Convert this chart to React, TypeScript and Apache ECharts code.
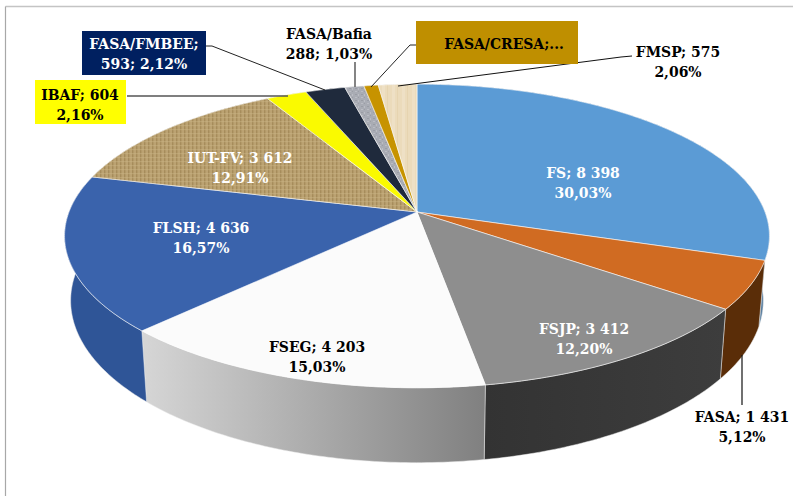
import React, { useEffect, useRef } from "react";
import * as echarts from "echarts";

const names = ["FS", "FASA", "FSJP", "FSEG", "FLSH", "IUT-FV", "IBAF", "FASA/FMBEE", "FASA/Bafia", "FASA/CRESA", "FMSP"];
const values = [8398, 1431, 3412, 4203, 4636, 3612, 604, 593, 288, 213, 575];
const labelTexts = [
  "FS; 8 398\n30,03%",
  "FASA; 1 431\n5,12%",
  "FSJP; 3 412\n12,20%",
  "FSEG; 4 203\n15,03%",
  "FLSH; 4 636\n16,57%",
  "IUT-FV; 3 612\n12,91%",
  "IBAF; 604\n2,16%",
  "FASA/FMBEE;\n593; 2,12%",
  "FASA/Bafia\n288; 1,03%",
  "FASA/CRESA;...",
  "FMSP; 575\n2,06%",
];

const labelCentres = [
  [583, 182.5], [742, 426], [584, 338.5], [317, 356], [201, 237], [240, 167],
  [80, 104], [144, 53.5], [329, 43.5], [504, 43], [678, 61.5],
];
const labelColours = ["#fff", "#000", "#fff", "#000", "#fff", "#fff", "#000", "#fff", "#000", "#000", "#000"];
const labelBoxes: (number[] | null)[] = [
  null, null, null, null, null, null,
  [35, 80, 91, 44], [82, 31, 124, 44], null, [416, 21, 162, 43], null,
];
const boxColours = ["", "", "", "", "", "", "#FFFF00", "#002060", "", "#BF8F00", ""];
const leaderLines = [
  { pts: [[742, 405], [742, 355]], c: "#111", w: 1.2 },
  { pts: [[127, 96], [288, 96]], c: "#555", w: 1.3 },
  { pts: [[206, 46], [212, 46], [325, 90]], c: "#222", w: 1 },
  { pts: [[355, 62], [355, 87]], c: "#666", w: 1.6 },
  { pts: [[416, 45], [410, 45], [371, 87]], c: "#222", w: 1 },
  { pts: [[632, 56], [621, 57], [398, 86]], c: "#111", w: 1 },
];

const PERSPECTIVE = -0.158;
const CX = 417;
const TOP = { cy: 212, a: 348, b: 148 };
const BOTTOM = { cy: 275, a: 342, b: 158 };

function rimPoint(rim: { cy: number; a: number; b: number }, deg: number) {
  const t = (deg * Math.PI) / 180;
  const u = Math.sin(t);
  const v = -Math.cos(t);
  const d = 1 + PERSPECTIVE * v;
  return [CX + (rim.a * u) / d, rim.cy + (rim.b * v) / d];
}

function rimArc(rim: { cy: number; a: number; b: number }, from: number, to: number) {
  const steps = Math.max(2, Math.ceil((to - from) / 0.75));
  const out: number[][] = [];
  for (let i = 0; i <= steps; i++) out.push(rimPoint(rim, from + ((to - from) * i) / steps));
  return out;
}

function makePattern(size: number, paint: (g: CanvasRenderingContext2D) => void) {
  const canvas = document.createElement("canvas");
  canvas.width = size;
  canvas.height = size;
  paint(canvas.getContext("2d") as CanvasRenderingContext2D);
  return { image: canvas, repeat: "repeat", imageWidth: size, imageHeight: size } as any;
}

function buildFills() {
  const hessian = makePattern(8, (g) => {
    g.fillStyle = "#BBA272";
    g.fillRect(0, 0, 8, 8);
    g.fillStyle = "#A68C5B";
    for (let i = 0; i < 8; i += 4) g.fillRect(i, 0, 1.4, 8);
    g.fillStyle = "rgba(205,182,136,0.45)";
    for (let i = 1; i < 8; i += 4) g.fillRect(0, i, 8, 1.2);
  });
  const granite = makePattern(6, (g) => {
    g.fillStyle = "#A9ACB4";
    g.fillRect(0, 0, 6, 6);
    g.fillStyle = "#BBBDC4";
    g.fillRect(1, 1, 2, 1);
    g.fillRect(4, 4, 1, 2);
    g.fillStyle = "#9A9DA5";
    g.fillRect(4, 1, 1, 1);
    g.fillRect(1, 4, 2, 1);
  });
  const wood = makePattern(10, (g) => {
    g.fillStyle = "#EBDBBB";
    g.fillRect(0, 0, 10, 10);
    g.fillStyle = "#EEE0C5";
    g.fillRect(2, 0, 3, 10);
    g.fillStyle = "#E6D4B0";
    g.fillRect(7, 0, 1, 10);
  });
  return ["#5B9BD5", "#D06B22", "#8E8E8E", "#FBFBFB", "#3A63AC", hessian, "#FAFA00", "#1F2A3C", granite, "#C79300", wood];
}

const wallFills: any[] = [
  "#5A7FA0",
  "#5A2D08",
  new echarts.graphic.LinearGradient(0, 0, 1, 0, [
    { offset: 0, color: "#333333" },
    { offset: 1, color: "#3D3D3D" },
  ]),
  new echarts.graphic.LinearGradient(0, 0, 1, 0, [
    { offset: 0, color: "#D6D6D6" },
    { offset: 1, color: "#808080" },
  ]),
  "#2F5597",
  "#8A7344",
  "#B0B000",
  "#141C28",
  "#777",
  "#8C6800",
  "#B5A88A",
];

const total = values.reduce((a, b) => a + b, 0);
const startDeg: number[] = [];
values.reduce((acc, v, i) => {
  startDeg[i] = (acc / total) * 360;
  return acc + v;
}, 0);

export default function App() {
  const ref = useRef<HTMLDivElement>(null);
  useEffect(() => {
    document.body.style.margin = "0";
    const chart = echarts.init(ref.current as HTMLDivElement, undefined, { renderer: "svg" });
    const topFills = buildFills();
    const seriesData = names.map((name, i) => ({ name, value: values[i] }));

    const elements: any[] = [
      { type: "line", shape: { x1: 5.5, y1: 6.5, x2: 793, y2: 6.5 }, style: { stroke: "#C4C4C4", lineWidth: 1.5 }, z: 0 },
      { type: "line", shape: { x1: 5.5, y1: 6.5, x2: 5.5, y2: 496 }, style: { stroke: "#A8A8A8", lineWidth: 1.2 }, z: 0 },
    ];
    leaderLines.forEach((l) => {
      elements.push({
        type: "polyline",
        shape: { points: l.pts },
        style: { stroke: l.c, lineWidth: l.w, fill: "none" },
        z: 20,
      });
    });
    labelTexts.forEach((text, i) => {
      const box = labelBoxes[i];
      if (box) {
        elements.push({
          type: "rect",
          shape: { x: box[0], y: box[1], width: box[2], height: box[3] },
          style: { fill: boxColours[i] },
          z: 30,
        });
      }
      elements.push({
        type: "text",
        x: labelCentres[i][0],
        y: labelCentres[i][1],
        style: {
          text,
          fill: labelColours[i],
          align: "center",
          verticalAlign: "middle",
          fontFamily: "'DejaVu Serif Condensed', 'DejaVu Serif'",
          fontWeight: "bold",
          fontSize: 15.5,
          lineHeight: 20,
        },
        z: 40,
      });
    });

    const slice = (i: number) => {
      const from = startDeg[i];
      return [from, from + (values[i] / total) * 360];
    };

    chart.setOption({
      animation: false,
      backgroundColor: "#fff",
      graphic: { elements },
      series: [
        {
          type: "custom",
          coordinateSystem: "none",
          silent: true,
          z: 2,
          data: seriesData,
          renderItem: (params: any) => {
            const i = params.dataIndex;
            const [a, b] = slice(i);
            const pts = rimArc(TOP, a, b).concat(rimArc(BOTTOM, a, b).reverse());
            return {
              type: "polygon",
              shape: { points: pts },
              style: { fill: wallFills[i], stroke: "rgba(235,235,235,0.7)", lineWidth: 0.7 },
            };
          },
        },
        {
          type: "custom",
          coordinateSystem: "none",
          silent: true,
          z: 3,
          data: seriesData,
          renderItem: (params: any) => {
            const i = params.dataIndex;
            const [a, b] = slice(i);
            const pts = [[CX, TOP.cy]].concat(rimArc(TOP, a, b));
            return {
              type: "polygon",
              shape: { points: pts },
              style: { fill: topFills[i], stroke: "rgba(255,255,255,0.7)", lineWidth: 0.8 },
            };
          },
        },
      ],
    });
    return () => chart.dispose();
  }, []);
  return <div ref={ref} style={{ width: 793, height: 496 }} />;
}
